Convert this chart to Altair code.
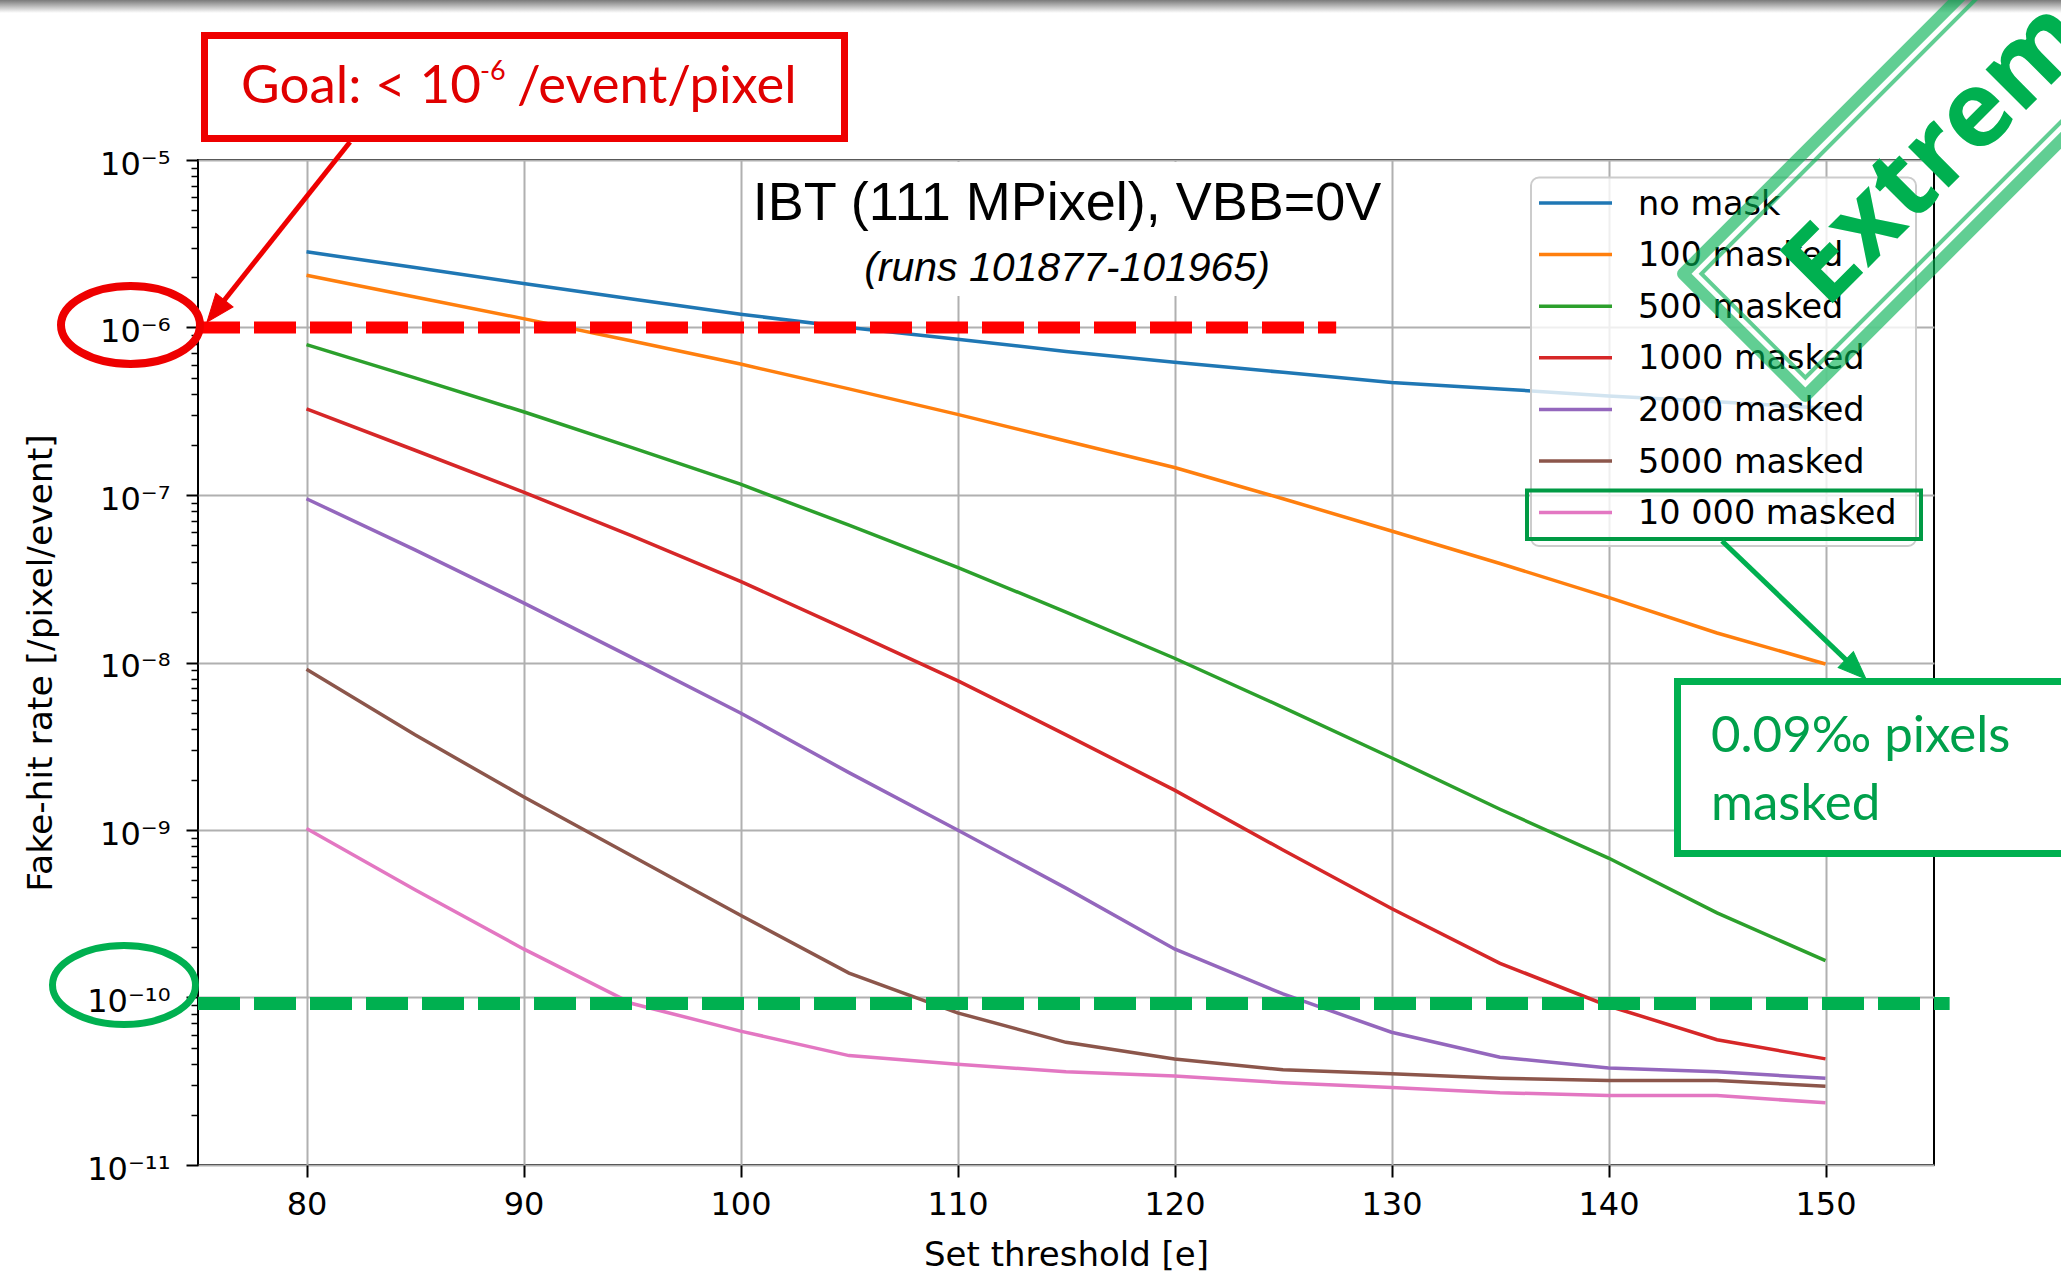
import altair as alt
import pandas as pd
import math

# ---------------- data ----------------
thresholds = [80, 85, 90, 95, 100, 105, 110, 115, 120, 125, 130, 135, 140, 145, 150]
series_names = ["no mask", "100 masked", "500 masked", "1000 masked",
                "2000 masked", "5000 masked", "10 000 masked"]
series_colors = ["#1f77b4", "#ff7f0e", "#2ca02c", "#d62728", "#9467bd", "#8c564b", "#e377c2"]

no_mask = [2.83e-6, 2.28e-6, 1.83e-6, 1.48e-6, 1.2e-6, 1.0e-6, 8.5e-7, 7.2e-7,
           6.2e-7, 5.4e-7, 4.7e-7, 4.3e-7, 3.9e-7, 3.6e-7, 3.3e-7]
masked_100 = [2.05e-6, 1.52e-6, 1.13e-6, 8.3e-7, 6.05e-7, 4.3e-7, 3.03e-7, 2.1e-7,
              1.46e-7, 9.5e-8, 6.1e-8, 3.9e-8, 2.45e-8, 1.5e-8, 9.8e-9]
masked_500 = [7.9e-7, 5.0e-7, 3.14e-7, 1.92e-7, 1.16e-7, 6.6e-8, 3.7e-8, 2.0e-8,
              1.06e-8, 5.4e-9, 2.7e-9, 1.33e-9, 6.8e-10, 3.2e-10, 1.66e-10]
masked_1000 = [3.27e-7, 1.85e-7, 1.04e-7, 5.7e-8, 3.05e-8, 1.55e-8, 7.8e-9, 3.7e-9,
               1.73e-9, 7.6e-10, 3.4e-10, 1.6e-10, 8.9e-11, 5.6e-11, 4.3e-11]
masked_2000 = [9.5e-8, 4.7e-8, 2.27e-8, 1.07e-8, 5.0e-9, 2.2e-9, 1.0e-9, 4.5e-10,
               1.95e-10, 1.05e-10, 6.2e-11, 4.4e-11, 3.8e-11, 3.6e-11, 3.3e-11]
masked_5000 = [9.1e-9, 3.7e-9, 1.58e-9, 7.0e-10, 3.1e-10, 1.4e-10, 8.1e-11, 5.4e-11,
               4.3e-11, 3.7e-11, 3.5e-11, 3.3e-11, 3.2e-11, 3.2e-11, 2.95e-11]
masked_10000 = [1.02e-9, 4.4e-10, 1.95e-10, 9.2e-11, 6.3e-11, 4.5e-11, 4.0e-11, 3.6e-11,
                3.4e-11, 3.1e-11, 2.9e-11, 2.7e-11, 2.6e-11, 2.6e-11, 2.35e-11]

x_ticks = [80, 90, 100, 110, 120, 130, 140, 150]
y_major_ticks = [1e-11, 1e-10, 1e-9, 1e-8, 1e-7, 1e-6, 1e-5]
y_tick_labels = ["10⁻¹¹", "10⁻¹⁰", "10⁻⁹", "10⁻⁸", "10⁻⁷", "10⁻⁶", "10⁻⁵"]
y_minor_mult = [2, 3, 4, 5, 6, 7, 8, 9]

goal_rate = 1e-6          # red dashed target
goal_x = [75, 127.45]
green_rate = 9.2e-11      # green dashed target
green_x = [75, 155.72]

all_series = [no_mask, masked_100, masked_500, masked_1000, masked_2000, masked_5000, masked_10000]
rows = []
for name, vals in zip(series_names, all_series):
    for t, v in zip(thresholds, vals):
        rows.append({"series": name, "threshold": t, "rate": v})
df = pd.DataFrame(rows)

# ---------------- layout ----------------
OX, OY = 198, 160            # plot origin in the page
W, H = 1736, 1005
def X(px): return px - OX
def Y(py): return py - OY

one = alt.Data(values=[{"a": 1}])
color_scale = alt.Scale(domain=series_names, range=series_colors)

y_ticks_all = sorted(y_major_ticks + [m * v for v in y_major_ticks[:-1] for m in y_minor_mult])
label_expr = ""
for v, lab in zip(y_major_ticks, y_tick_labels):
    label_expr += f"abs(datum.value / {v} - 1) < 0.001 ? '{lab}' : "
label_expr += "''"
major_test = "abs(log(datum.value)/LN10 - round(log(datum.value)/LN10)) < 0.01"

x_axis = alt.Axis(values=x_ticks, title="Set threshold [e]", domain=False,
                  labelFont="DejaVu Sans", labelFontSize=32, labelColor="black",
                  labelBaseline="alphabetic", labelPadding=37.5, labelFlush=False,
                  labelOverlap=False,
                  tickSize=12, tickWidth=2, tickColor="black",
                  grid=True, gridColor="#b0b0b0", gridWidth=2,
                  titleFont="DejaVu Sans", titleFontSize=34, titleFontWeight="normal",
                  titleColor="black", titleX=W / 2, titleY=100,
                  titleAlign="center", titleBaseline="alphabetic")

y_axis = alt.Axis(values=y_ticks_all, labelExpr=label_expr, domain=False,
                  labelFont="DejaVu Sans", labelFontSize=32, labelColor="black",
                  labelBaseline="alphabetic", labelOffset=14, labelPadding=16,
                  labelOverlap=False, labelBound=False, labelFlush=False,
                  tickSize={"condition": {"test": major_test, "value": 12}, "value": 7},
                  tickWidth={"condition": {"test": major_test, "value": 2}, "value": 1.5},
                  tickColor="black",
                  grid=True, gridColor="#b0b0b0", gridWidth=2,
                  gridOpacity={"condition": {"test": major_test, "value": 1}, "value": 0},
                  title="Fake-hit rate [/pixel/event]",
                  titleFont="DejaVu Sans", titleFontSize=34.5, titleFontWeight="normal",
                  titleColor="black", titleX=X(41), titleY=H / 2, titleAngle=270,
                  titleAlign="center", titleBaseline="middle")

layers = []

# grey slide shadow on top
grad = alt.LinearGradient(gradient="linear", x1=0, y1=0, x2=0, y2=1,
                          stops=[alt.GradientStop(color="#7a7a7a", offset=0),
                                 alt.GradientStop(color="#ffffff", offset=1)])
layers.append(alt.Chart(one).mark_rect(fill=grad).encode(
    x=alt.value(X(0)), x2=alt.value(X(2061)), y=alt.value(Y(0)), y2=alt.value(Y(13))))

# white box behind the in-plot title
layers.append(alt.Chart(one).mark_rect(fill="white").encode(
    x=alt.value(X(748)), x2=alt.value(X(1388)), y=alt.value(Y(162)), y2=alt.value(Y(296))))

# data lines
layers.append(alt.Chart(df).mark_line(strokeWidth=3.5).encode(
    x=alt.X("threshold:Q", scale=alt.Scale(domain=[75, 155], nice=False, zero=False), axis=x_axis),
    y=alt.Y("rate:Q", scale=alt.Scale(type="log", domain=[1e-11, 1e-5], nice=False), axis=y_axis),
    color=alt.Color("series:N", scale=color_scale, legend=None),
))

# dashed goal lines
layers.append(alt.Chart(one).mark_rule(color="#ff0000", strokeWidth=12, strokeDash=[42, 14]).encode(
    x=alt.datum(goal_x[0]), x2=alt.datum(goal_x[1]), y=alt.datum(goal_rate)))
layers.append(alt.Chart(one).mark_rule(color="#00b050", strokeWidth=13, strokeDash=[42, 14]).encode(
    x=alt.datum(green_x[0]), x2=alt.datum(green_x[1]), y=alt.datum(green_rate)))

# in-plot title
layers.append(alt.Chart(one).mark_text(text="IBT (111 MPixel), VBB=0V", font="Liberation Sans",
                                       fontSize=54, align="center", baseline="alphabetic",
                                       color="black").encode(x=alt.value(X(1067)), y=alt.value(Y(220))))
layers.append(alt.Chart(one).mark_text(text="(runs 101877-101965)", font="Liberation Sans",
                                       fontSize=41, fontStyle="italic", align="center",
                                       baseline="alphabetic", color="black").encode(
    x=alt.value(X(1067)), y=alt.value(Y(281))))

# legend (matplotlib style)
leg_top, leg_step = 203, 51.6
legend_df = pd.DataFrame({"series": series_names,
                          "ry": [Y(leg_top + i * leg_step) for i in range(len(series_names))]})
layers.append(alt.Chart(one).mark_rect(fill="white", fillOpacity=0.8, stroke="#cccccc",
                                       strokeWidth=2, cornerRadius=8).encode(
    x=alt.value(X(1531)), x2=alt.value(X(1916)), y=alt.value(Y(177.5)), y2=alt.value(Y(546))))
layers.append(alt.Chart(legend_df).mark_rule(strokeWidth=3.5).encode(
    x=alt.value(X(1539)), x2=alt.value(X(1612)), y=alt.Y("ry:Q", scale=None),
    color=alt.Color("series:N", scale=color_scale, legend=None)))
layers.append(alt.Chart(legend_df).mark_text(align="left", baseline="alphabetic", dy=11.5,
                                             font="DejaVu Sans", fontSize=33.5, color="black").encode(
    x=alt.value(X(1638)), y=alt.Y("ry:Q", scale=None), text="series:N"))

# green frame around "10 000 masked"
layers.append(alt.Chart(one).mark_rect(fill=None, stroke="#009a44", strokeWidth=4).encode(
    x=alt.value(X(1527)), x2=alt.value(X(1921)), y=alt.value(Y(490.5)), y2=alt.value(Y(539))))

# arrow helper
arrow_head = "M 0 0 L -1.1 2.8 L 1.1 2.8 Z"
def arrow(x0, y0, x1, y1, back, angle, color):
    dx, dy = x1 - x0, y1 - y0
    L = math.hypot(dx, dy)
    ex, ey = x1 - back * dx / L, y1 - back * dy / L
    line = alt.Chart(one).mark_rule(color=color, strokeWidth=5).encode(
        x=alt.value(X(x0)), x2=alt.value(X(ex)), y=alt.value(Y(y0)), y2=alt.value(Y(ey)))
    head = alt.Chart(one).mark_point(shape=arrow_head, size=400, filled=True, fill=color,
                                     stroke=color, strokeWidth=1, opacity=1, angle=angle).encode(
        x=alt.value(X(x1)), y=alt.value(Y(y1)))
    return [line, head]

layers += arrow(1722, 541, 1866, 679, 15, 133.8, "#00b050")

# green annotation box
layers.append(alt.Chart(one).mark_rect(fill="white", stroke="#00b050", strokeWidth=7).encode(
    x=alt.value(X(1677.5)), x2=alt.value(X(2110)), y=alt.value(Y(681.5)), y2=alt.value(Y(853.5))))
layers.append(alt.Chart(one).mark_text(text="0.09‰ pixels", font="Lato", fontSize=51, align="left",
                                       baseline="alphabetic", color="#00a04b").encode(
    x=alt.value(X(1711)), y=alt.value(Y(752))))
layers.append(alt.Chart(one).mark_text(text="masked", font="Lato", fontSize=51, align="left",
                                       baseline="alphabetic", color="#00a04b").encode(
    x=alt.value(X(1711)), y=alt.value(Y(820))))

# red goal box
layers.append(alt.Chart(one).mark_rect(fill="white", stroke="#ee0000", strokeWidth=7).encode(
    x=alt.value(X(204.5)), x2=alt.value(X(844.5)), y=alt.value(Y(35.5)), y2=alt.value(Y(138.5))))
layers.append(alt.Chart(one).mark_text(text="Goal: < 10", font="Lato", fontSize=53, align="left",
                                       baseline="alphabetic", color="#e00000").encode(
    x=alt.value(X(241)), y=alt.value(Y(103))))
layers.append(alt.Chart(one).mark_text(text="-6", font="Lato", fontSize=27, align="left",
                                       baseline="alphabetic", color="#e00000").encode(
    x=alt.value(X(480)), y=alt.value(Y(80))))
layers.append(alt.Chart(one).mark_text(text="/event/pixel", font="Lato", fontSize=52.5, align="left",
                                       baseline="alphabetic", color="#e00000").encode(
    x=alt.value(X(517)), y=alt.value(Y(103))))
layers += arrow(350, 142, 207, 322, 15, 218.5, "#ee0000")

# ellipses
def ellipse_path(r):
    k = 0.5523
    return (f"M -1 0 C -1 {-k*r:.4f} {-k:.4f} {-r:.4f} 0 {-r:.4f} "
            f"C {k:.4f} {-r:.4f} 1 {-k*r:.4f} 1 0 "
            f"C 1 {k*r:.4f} {k:.4f} {r:.4f} 0 {r:.4f} "
            f"C {-k:.4f} {r:.4f} -1 {k*r:.4f} -1 0 Z")

def ellipse(cx, cy, w, h, sw, color):
    pw, ph = w - sw, h - sw
    return alt.Chart(one).mark_point(shape=ellipse_path(ph / pw), size=pw * pw, filled=False,
                                     stroke=color, strokeWidth=sw, opacity=1).encode(
        x=alt.value(X(cx)), y=alt.value(Y(cy)))

layers.append(ellipse(130.5, 325, 147, 86, 8, "#ee0000"))
layers.append(ellipse(124, 985, 150, 86, 7, "#00b050"))

# stamp
def rect_path(a, b):
    return f"M {-a} {-b} L {a} {-b} L {a} {b} L {-a} {b} Z"
stamp_cx, stamp_cy = 2022.8, 56.2
layers.append(alt.Chart(one).mark_point(shape=rect_path(3.94, 0.865), size=40000, filled=False,
                                        stroke="#00b050", strokeOpacity=0.62, strokeWidth=12,
                                        opacity=1, angle=315, strokeJoin="round").encode(
    x=alt.value(X(stamp_cx)), y=alt.value(Y(stamp_cy))))
layers.append(alt.Chart(one).mark_point(shape=rect_path(3.81, 0.735), size=40000, filled=False,
                                        stroke="#00b050", strokeOpacity=0.62, strokeWidth=4,
                                        opacity=1, angle=315).encode(
    x=alt.value(X(stamp_cx)), y=alt.value(Y(stamp_cy))))
layers.append(alt.Chart(one).mark_text(text="Extreme", font="Open Sans", fontSize=105, fontWeight="bold",
                                       align="left", baseline="alphabetic", angle=315,
                                       color="#00b050").encode(
    x=alt.value(X(1826)), y=alt.value(Y(310))))

chart = alt.layer(*layers).properties(
    width=W, height=H,
    autosize=alt.AutoSizeParams(type="none"),
    padding={"left": OX, "top": OY, "right": 2061 - OX - W, "bottom": 1276 - OY - H},
    background="white",
).configure_view(stroke="black", strokeWidth=2)

chart.save("out.html", embed_options={"renderer": "svg", "actions": False})
